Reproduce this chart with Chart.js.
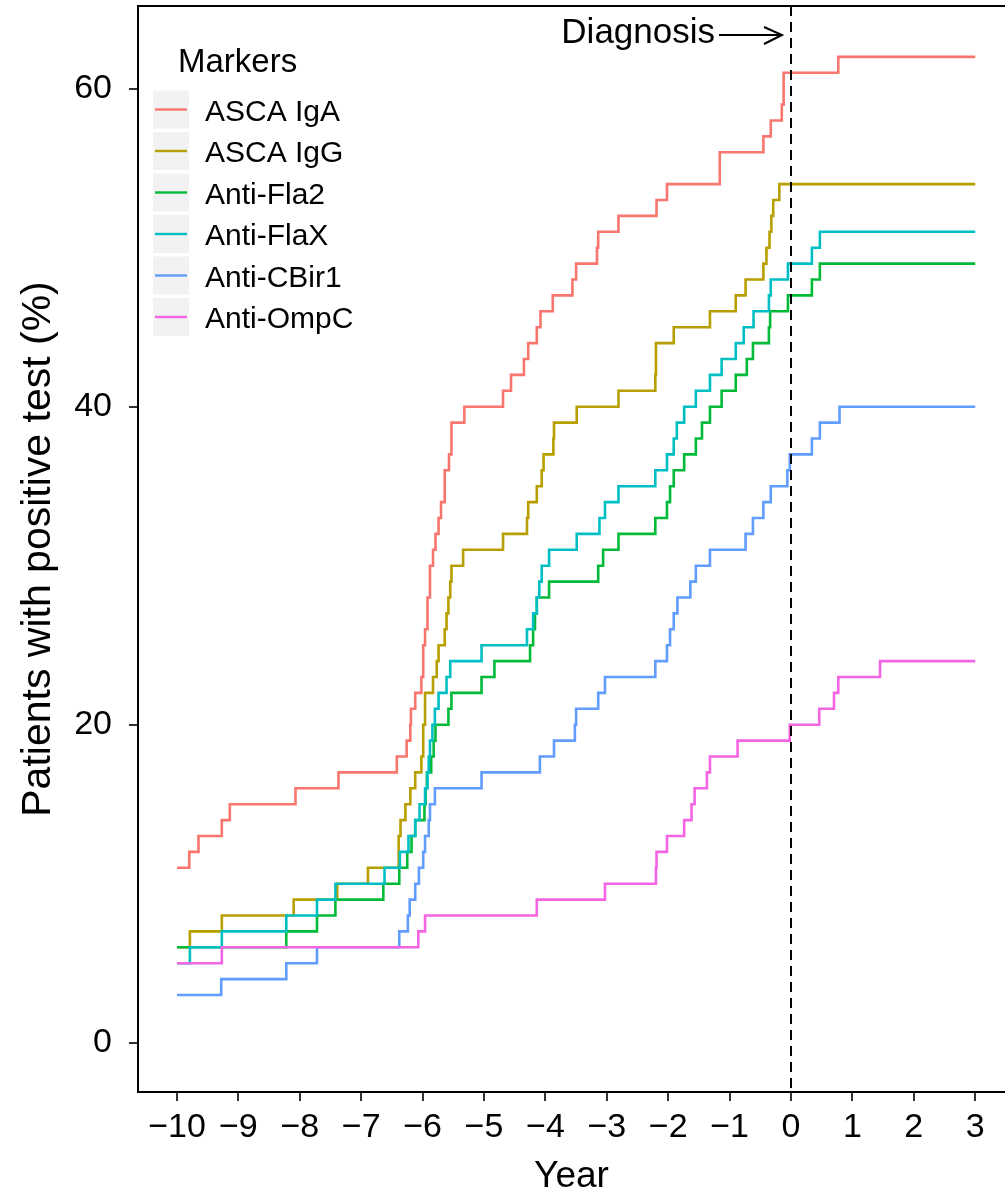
<!DOCTYPE html>
<html><head><meta charset="utf-8">
<script src="https://cdn.jsdelivr.net/npm/chart.js@4/dist/chart.umd.min.js"></script>
<style>html,body{margin:0;padding:0;background:#fff;overflow:hidden;}#wrap{width:1005px;height:1199px;}</style>
</head><body><div id="wrap"><canvas id="c" width="1005" height="1199"></canvas></div>
<script>
// ---- data ----
const seriesNames = ['ASCA IgA', 'ASCA IgG', 'Anti-Fla2', 'Anti-FlaX', 'Anti-CBir1', 'Anti-OmpC'];
const seriesColors = ['#F8766D', '#B79F00', '#00BA38', '#00BFC4', '#619CFF', '#F564E3'];

const ascaIgaYears = [-10, -9.80, -9.65, -9.27, -9.14, -8.07, -7.37, -6.42, -6.26, -6.20, -6.19, -6.12, -6.02, -5.99, -5.96, -5.92, -5.88, -5.83, -5.79, -5.74, -5.70, -5.64, -5.57, -5.53, -5.32, -4.69, -4.56, -4.35, -4.28, -4.14, -4.08, -3.88, -3.56, -3.50, -3.16, -3.14, -2.81, -2.19, -2.02, -1.16, -0.45, -0.33, -0.15, -0.12, 0.77, 3];
const ascaIgaValues = [11, 12, 13, 14, 15, 16, 17, 18, 19, 20, 21, 22, 23, 25, 26, 28, 30, 31, 32, 33, 34, 36, 37, 39, 40, 41, 42, 43, 44, 45, 46, 47, 48, 49, 50, 51, 52, 53, 54, 56, 57, 58, 59, 61, 62, 62];

const ascaIggYears = [-10, -9.79, -9.27, -8.10, -7.39, -6.89, -6.39, -6.36, -6.28, -6.20, -6.12, -6.02, -5.99, -5.96, -5.83, -5.77, -5.74, -5.64, -5.61, -5.58, -5.55, -5.53, -5.34, -4.69, -4.30, -4.28, -4.14, -4.06, -4.03, -3.87, -3.86, -3.49, -2.81, -2.21, -2.20, -1.91, -1.32, -0.90, -0.74, -0.45, -0.40, -0.35, -0.32, -0.29, -0.19, 3];
const ascaIggValues = [6, 7, 8, 9, 10, 11, 13, 14, 15, 16, 17, 18, 20, 22, 23, 24, 25, 26, 27, 28, 29, 30, 31, 32, 33, 34, 35, 36, 37, 38, 39, 40, 41, 42, 44, 45, 46, 47, 48, 49, 50, 51, 52, 53, 54, 54];

const antiFla2Years = [-10, -8.22, -7.72, -7.42, -6.64, -6.38, -6.25, -6.18, -6.12, -5.97, -5.95, -5.93, -5.86, -5.82, -5.79, -5.58, -5.53, -5.04, -4.83, -4.25, -4.20, -4.17, -4.14, -3.94, -3.14, -3.06, -2.81, -2.21, -2.02, -1.97, -1.91, -1.74, -1.55, -1.45, -1.32, -1.13, -0.90, -0.72, -0.62, -0.36, -0.34, -0.05, 0.34, 0.47, 3];
const antiFla2Values = [6, 7, 8, 9, 10, 11, 12, 13, 14, 15, 16, 17, 18, 19, 20, 21, 22, 23, 24, 25, 26, 27, 28, 29, 30, 31, 32, 33, 34, 35, 36, 37, 38, 39, 40, 41, 42, 43, 44, 45, 46, 47, 48, 49, 49];

const antiFlaXYears = [-10, -9.79, -9.27, -8.22, -7.72, -7.42, -6.62, -6.37, -6.23, -6.12, -6.05, -5.96, -5.92, -5.90, -5.88, -5.84, -5.80, -5.74, -5.61, -5.55, -5.04, -4.30, -4.20, -4.14, -4.10, -4.06, -3.94, -3.49, -3.12, -3.03, -2.81, -2.21, -2.02, -1.91, -1.86, -1.74, -1.55, -1.32, -1.13, -0.90, -0.77, -0.61, -0.36, -0.33, -0.05, 0.34, 0.47, 3];
const antiFlaXValues = [5, 6, 7, 8, 9, 10, 11, 12, 13, 14, 15, 16, 17, 18, 19, 20, 21, 22, 23, 24, 25, 26, 27, 28, 29, 30, 31, 32, 33, 34, 35, 36, 37, 38, 39, 40, 41, 42, 43, 44, 45, 46, 47, 48, 49, 50, 51, 51];

const antiCBir1Years = [-10, -9.28, -8.22, -7.72, -6.38, -6.24, -6.21, -6.12, -6.06, -5.99, -5.96, -5.90, -5.88, -5.80, -5.04, -4.09, -3.86, -3.52, -3.50, -3.14, -3.03, -2.21, -2.02, -1.97, -1.91, -1.85, -1.64, -1.55, -1.32, -0.74, -0.62, -0.45, -0.33, -0.06, -0.02, 0.34, 0.47, 0.79, 3];
const antiCBir1Values = [3, 4, 5, 6, 7, 8, 9, 10, 11, 12, 13, 14, 15, 16, 17, 18, 19, 20, 21, 22, 23, 24, 25, 26, 27, 28, 29, 30, 31, 32, 33, 34, 35, 36, 37, 38, 39, 40, 40];

const antiOmpCYears = [-10, -9.27, -6.07, -5.96, -4.14, -3.03, -2.20, -2.19, -2.02, -1.74, -1.62, -1.57, -1.37, -1.32, -0.87, -0.02, 0.46, 0.70, 0.77, 1.45, 3];
const antiOmpCValues = [5, 6, 7, 8, 9, 10, 11, 12, 13, 14, 15, 16, 17, 18, 19, 20, 21, 22, 23, 24, 24];

const xTicks = [-10, -9, -8, -7, -6, -5, -4, -3, -2, -1, 0, 1, 2, 3];
const yTicks = [0, 20, 40, 60];
const xRange = [-10.635, 3.485];   // visible part of the panel (its right edge is cropped)
const yRange = [-3.1, 65.2];
const diagnosisYear = 0;
const diagnosisLabel = 'Diagnosis';
const legendTitle = 'Markers';
const xTitle = 'Year';
const yTitle = 'Patients with positive test (%)';

// ---- build ----
const allYears = [ascaIgaYears, ascaIggYears, antiFla2Years, antiFlaXYears, antiCBir1Years, antiOmpCYears];
const allValues = [ascaIgaValues, ascaIggValues, antiFla2Values, antiFlaXValues, antiCBir1Values, antiOmpCValues];
const FONT = "'Liberation Sans', Arial, Helvetica, sans-serif";

const datasets = seriesNames.map((name, i) => ({
  label: name,
  data: allYears[i].map((x, j) => ({ x: x, y: allValues[i][j] })),
  borderColor: seriesColors[i],
  backgroundColor: seriesColors[i],
  borderWidth: 2.6,
  pointRadius: 0,
  fill: false,
  stepped: 'before',
  order: seriesNames.length - 1 - i
}));

const fmt = v => (v < 0 ? '\u2212' + Math.abs(v) : String(v));

const decor = {
  id: 'decor',
  afterDatasetsDraw(chart) {
    const { ctx, chartArea: a, scales } = chart;
    const x0 = scales.x.getPixelForValue(diagnosisYear);
    ctx.save();
    ctx.strokeStyle = '#000';
    ctx.lineWidth = 2;
    ctx.setLineDash([10, 6]);
    ctx.beginPath();
    ctx.moveTo(x0, a.top);
    ctx.lineTo(x0, a.bottom);
    ctx.stroke();
    ctx.restore();
  },
  afterDraw(chart) {
    const { ctx, chartArea: a, scales } = chart;
    const x0 = scales.x.getPixelForValue(diagnosisYear);
    const x3 = scales.x.getPixelForValue(xTicks[xTicks.length - 1]);
    ctx.save();
    // keep the cropped right margin clean (the panel's right border lies outside the picture)
    ctx.fillStyle = '#fff';
    ctx.fillRect(x3 + 10, a.top + 1, chart.width - x3, a.bottom - a.top - 2);
    // panel border: top, left, bottom
    ctx.strokeStyle = '#000';
    ctx.lineWidth = 2;
    ctx.beginPath();
    ctx.moveTo(chart.width + 2, a.top);
    ctx.lineTo(a.left, a.top);
    ctx.lineTo(a.left, a.bottom);
    ctx.lineTo(chart.width + 2, a.bottom);
    ctx.stroke();
    // diagnosis annotation
    ctx.fillStyle = '#000';
    ctx.font = '35px ' + FONT;
    ctx.textAlign = 'right';
    ctx.textBaseline = 'alphabetic';
    ctx.fillText(diagnosisLabel, x0 - 76, 43);
    ctx.lineWidth = 2;
    ctx.beginPath();
    ctx.moveTo(x0 - 72, 35);
    ctx.lineTo(x0 - 9, 35);
    ctx.moveTo(x0 - 27, 27);
    ctx.lineTo(x0 - 9, 35);
    ctx.lineTo(x0 - 27, 44);
    ctx.stroke();
    // legend
    ctx.textAlign = 'left';
    ctx.font = '33px ' + FONT;
    ctx.fillText(legendTitle, 178, 72);
    ctx.font = '30px ' + FONT;
    seriesNames.forEach((name, i) => {
      const cy = 109.5 + i * 41.5;
      ctx.fillStyle = '#F2F2F2';
      ctx.fillRect(153, cy - 19, 36, 38);
      ctx.strokeStyle = seriesColors[i];
      ctx.lineWidth = 2.4;
      ctx.beginPath();
      ctx.moveTo(155, cy);
      ctx.lineTo(187, cy);
      ctx.stroke();
      ctx.fillStyle = '#000';
      ctx.fillText(name, 205, cy + 11);
    });
    ctx.restore();
  }
};

new Chart(document.getElementById('c').getContext('2d'), {
  type: 'line',
  data: { datasets },
  options: {
    responsive: false,
    maintainAspectRatio: false,
    animation: false,
    devicePixelRatio: 1,
    layout: { padding: { top: 6, right: 0, left: 0, bottom: 0 } },
    plugins: { legend: { display: false }, tooltip: { enabled: false } },
    scales: {
      x: {
        type: 'linear', min: xRange[0], max: xRange[1],
        afterBuildTicks: s => { s.ticks = xTicks.map(v => ({ value: v })); },
        afterFit: s => { s.height = 107; s.paddingLeft = 0; s.paddingRight = 0; },
        grid: { drawOnChartArea: false, drawTicks: true, tickLength: 9, color: '#333', lineWidth: 2 },
        border: { display: false },
        ticks: { font: { family: FONT, size: 34 }, color: '#000', padding: 6, maxRotation: 0, autoSkip: false, callback: v => fmt(v) },
        title: { display: true, text: xTitle, font: { family: FONT, size: 37 }, color: '#000', padding: { top: 2, bottom: 0 } }
      },
      y: {
        type: 'linear', min: yRange[0], max: yRange[1],
        afterBuildTicks: s => { s.ticks = yTicks.map(v => ({ value: v })); },
        afterFit: s => { s.width = 138; s.paddingTop = 0; s.paddingBottom = 0; },
        grid: { drawOnChartArea: false, drawTicks: true, tickLength: 9, color: '#333', lineWidth: 2 },
        border: { display: false },
        ticks: { font: { family: FONT, size: 34 }, color: '#000', padding: 17, callback: v => fmt(v) },
        title: { display: true, text: yTitle, font: { family: FONT, size: 41 }, color: '#000', padding: { top: 14, bottom: 0 } }
      }
    }
  },
  plugins: [decor]
});
</script>
</body></html>
